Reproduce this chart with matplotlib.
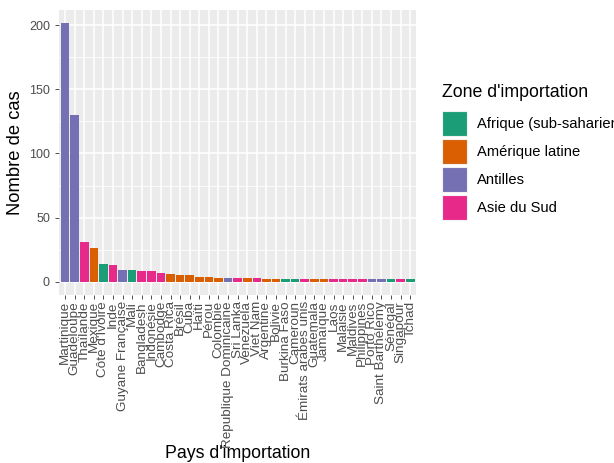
import numpy as np
import matplotlib
matplotlib.use("Agg")
import matplotlib.pyplot as plt

plt.rcParams['font.family'] = ['Liberation Sans', 'DejaVu Sans']

pays = ["Martinique", "Guadeloupe", "Thaïlande", "Mexique", "Côte d'Ivoire", "Inde",
        "Guyane Française", "Mali", "Bangladesh", "Indonésie", "Cambodge", "Costa Rica",
        "Brésil", "Cuba", "Haïti", "Pérou", "Colombie", "Republique Dominicaine",
        "Sri Lanka", "Venezuela", "Viet Nam", "Argentine", "Bolivie", "Burkina Faso",
        "Cameroun", "Émirats arabes unis", "Guatemala", "Jamaïque", "Laos", "Malaisie",
        "Maldives", "Philippines", "Porto Rico", "Saint Barthélemy", "Sénégal",
        "Singapour", "Tchad"]
cas = [202, 130, 31, 26, 14, 13, 9, 9, 8, 8, 7, 6, 5, 5, 4, 4, 3, 3, 3, 3, 3,
       2, 2, 2, 2, 2, 2, 2, 2, 2, 2, 2, 2, 2, 2, 2, 2]
AF, AM, AN, AS = "Afrique (sub-saharienne)", "Amérique latine", "Antilles", "Asie du Sud"
zone = [AN, AN, AS, AM, AF, AS, AN, AF, AS, AS, AS, AM, AM, AM, AM, AM, AM, AN,
        AS, AM, AS, AM, AM, AF, AF, AS, AM, AM, AS, AS, AS, AS, AN, AN, AF, AS, AF]
zones = [AF, AM, AN, AS]
couleurs = ["#1B9E77", "#D95F02", "#7570B3", "#E7298A"]

fig = plt.figure(figsize=(6.14, 4.63), dpi=100)
W, H = 614, 463
ax = fig.add_axes([59.3 / W, 1 - 294.6 / H, (416 - 59.3) / W, (294.6 - 9.8) / H])
ax.set_facecolor("#EBEBEB")

x = np.arange(len(pays))
valeurs = np.array(cas)
for z, c in zip(zones, couleurs):
    idx = [i for i in range(len(pays)) if zone[i] == z]
    ax.bar(x[idx], valeurs[idx], width=0.9, color=c, label=z, zorder=3)

ymax = valeurs.max()
ax.set_xlim(-0.6, len(pays) - 0.4)
ax.set_ylim(-0.05 * ymax, 1.05 * ymax)
ax.set_yticks([0, 50, 100, 150, 200])
ax.set_yticks([25, 75, 125, 175], minor=True)
ax.set_xticks(x)
ax.set_xticklabels(pays, rotation=90, fontsize=9.7, color="#4D4D4D")
ax.tick_params(axis="y", labelsize=9, labelcolor="#4D4D4D")
ax.grid(which="major", color="white", linewidth=1.1)
ax.grid(which="minor", axis="y", color="white", linewidth=0.55)
ax.set_axisbelow(True)
ax.tick_params(which="minor", length=0)
ax.tick_params(which="major", length=2.75, width=0.6, color="#333333")
ax.tick_params(axis="x", pad=2)
ax.tick_params(axis="y", pad=4)
for s in ax.spines.values():
    s.set_visible(False)

ax.set_xlabel("Pays d'importation", fontsize=12.8, va="center")
ax.set_ylabel("Nombre de cas", fontsize=13.2, va="center")
ax.xaxis.set_label_coords(0.5, (294.6 - 453) / (294.6 - 9.8))
ax.yaxis.set_label_coords((15.5 - 59.3) / (416 - 59.3), 0.5)

# legende a droite, coupee par le bord comme dans l'original
leg = ax.legend(title="Zone d'importation", loc="upper left",
                bbox_to_anchor=(441.7 / W, 1 - 84 / H), bbox_transform=fig.transFigure,
                frameon=False, fontsize=10.6, title_fontsize=12.8,
                handlelength=1.7, handleheight=2.24, labelspacing=0.2,
                handletextpad=0.68, borderpad=0, borderaxespad=0)
leg._legend_box.align = "left"
leg._legend_box.sep = 7
for p in leg.get_patches():
    p.set_edgecolor("#F2F2F2")
    p.set_linewidth(0.8)

fig.savefig("out.png", dpi=100)
